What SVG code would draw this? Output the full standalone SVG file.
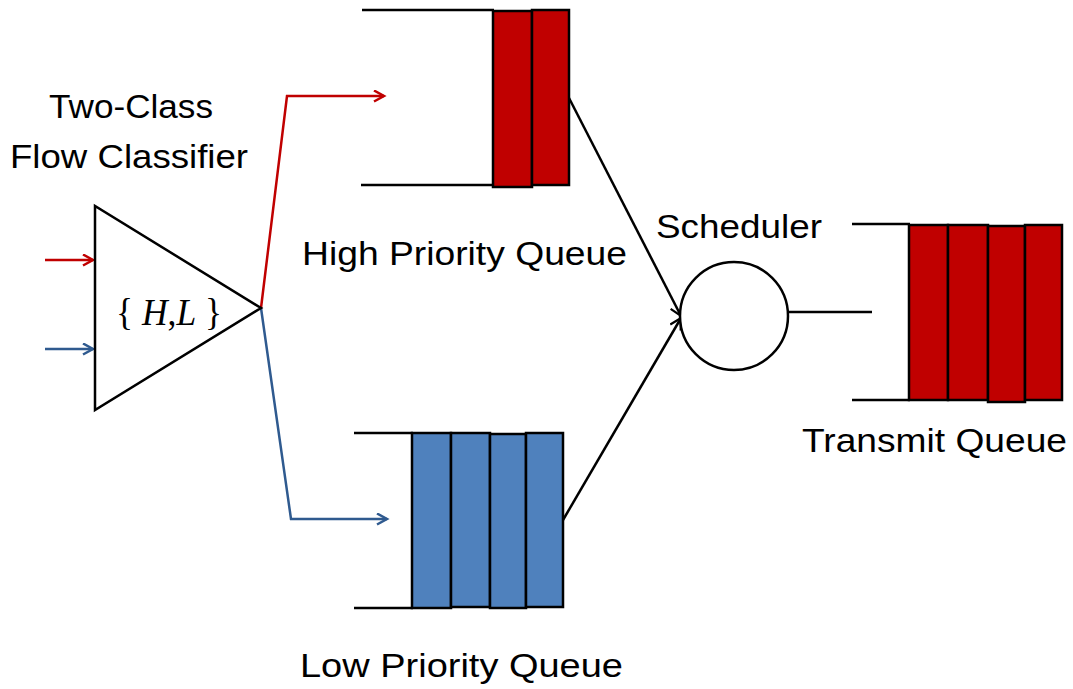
<svg xmlns="http://www.w3.org/2000/svg" width="1073" height="689" viewBox="0 0 1073 689">
<style>
.lbl{font-family:"Liberation Sans",Arial,sans-serif;font-size:34px;fill:#000}
.ln{stroke:#000;stroke-width:2.5;fill:none}
.red{fill:#C00000;stroke:#000;stroke-width:2.5}
.blue{fill:#4F81BD;stroke:#000;stroke-width:2.5}
</style>
<defs>
<marker id="mR" markerUnits="userSpaceOnUse" markerWidth="14" markerHeight="14" refX="11" refY="6.5" orient="auto"><path d="M1,1 L11,6.5 L1,12" fill="none" stroke="#C00000" stroke-width="2.5"/></marker>
<marker id="mB" markerUnits="userSpaceOnUse" markerWidth="14" markerHeight="14" refX="11" refY="6.5" orient="auto"><path d="M1,1 L11,6.5 L1,12" fill="none" stroke="#2F5A8F" stroke-width="2.5"/></marker>
<marker id="mK" markerUnits="userSpaceOnUse" markerWidth="16" markerHeight="16" refX="12" refY="7" orient="auto"><path d="M1,1 L12,7 L1,13" fill="none" stroke="#000" stroke-width="2.2"/></marker>
</defs>
<rect width="1073" height="689" fill="#fff"/>

<g id="connectors">
<line x1="45" y1="260" x2="93" y2="260" stroke="#C00000" stroke-width="2.5" marker-end="url(#mR)"/>
<line x1="45" y1="349" x2="93" y2="349" stroke="#2F5A8F" stroke-width="2.5" marker-end="url(#mB)"/>
<polyline points="261,308 287,96 384,96" fill="none" stroke="#C00000" stroke-width="2.5" marker-end="url(#mR)"/>
<polyline points="261,308 291,519 387,519" fill="none" stroke="#2F5A8F" stroke-width="2.5" marker-end="url(#mB)"/>
<line x1="569" y1="98" x2="681" y2="316" class="ln" marker-end="url(#mK)"/>
<line x1="563" y1="520" x2="681" y2="318" class="ln" marker-end="url(#mK)"/>
<line x1="788" y1="312" x2="872" y2="312" class="ln"/>
</g>

<g id="classifier">
<polygon points="95,206 95,410 261,308" fill="#fff" stroke="#000" stroke-width="2.5" stroke-linejoin="miter"/>
<text x="169" y="325" text-anchor="middle" font-family="Liberation Serif,'Times New Roman',serif" font-size="38" textLength="106" lengthAdjust="spacingAndGlyphs">{ <tspan font-style="italic">H</tspan>,<tspan font-style="italic">L</tspan> }</text>
<text class="lbl" x="49" y="118" textLength="164" lengthAdjust="spacingAndGlyphs">Two-Class</text>
<text class="lbl" x="10" y="168" textLength="238" lengthAdjust="spacingAndGlyphs">Flow Classifier</text>
</g>

<g id="high-queue">
<line x1="362" y1="10" x2="494" y2="10" class="ln"/>
<line x1="361" y1="185" x2="494" y2="185" class="ln"/>
<rect x="493" y="11" width="39" height="176" class="red"/>
<rect x="532" y="10" width="37" height="175" class="red"/>
<text class="lbl" x="302" y="265" textLength="325" lengthAdjust="spacingAndGlyphs">High Priority Queue</text>
</g>

<g id="low-queue">
<line x1="354" y1="433" x2="413" y2="433" class="ln"/>
<line x1="354" y1="608" x2="413" y2="608" class="ln"/>
<rect x="412" y="433" width="39" height="175" class="blue"/>
<rect x="451" y="433" width="39" height="174" class="blue"/>
<rect x="490" y="434" width="36" height="174" class="blue"/>
<rect x="526" y="433" width="37" height="174" class="blue"/>
<text class="lbl" x="300" y="677" textLength="323" lengthAdjust="spacingAndGlyphs">Low Priority Queue</text>
</g>

<g id="scheduler">
<circle cx="734" cy="316" r="54" fill="#fff" stroke="#000" stroke-width="2.5"/>
<text class="lbl" x="656" y="238" textLength="166" lengthAdjust="spacingAndGlyphs">Scheduler</text>
</g>

<g id="transmit-queue">
<line x1="852" y1="224" x2="910" y2="224" class="ln"/>
<line x1="852" y1="400" x2="910" y2="400" class="ln"/>
<rect x="909" y="225" width="39" height="175" class="red"/>
<rect x="948" y="225" width="40" height="175" class="red"/>
<rect x="988" y="226" width="37" height="176" class="red"/>
<rect x="1025" y="225" width="37" height="175" class="red"/>
<text class="lbl" x="802" y="452" textLength="265" lengthAdjust="spacingAndGlyphs">Transmit Queue</text>
</g>
</svg>
